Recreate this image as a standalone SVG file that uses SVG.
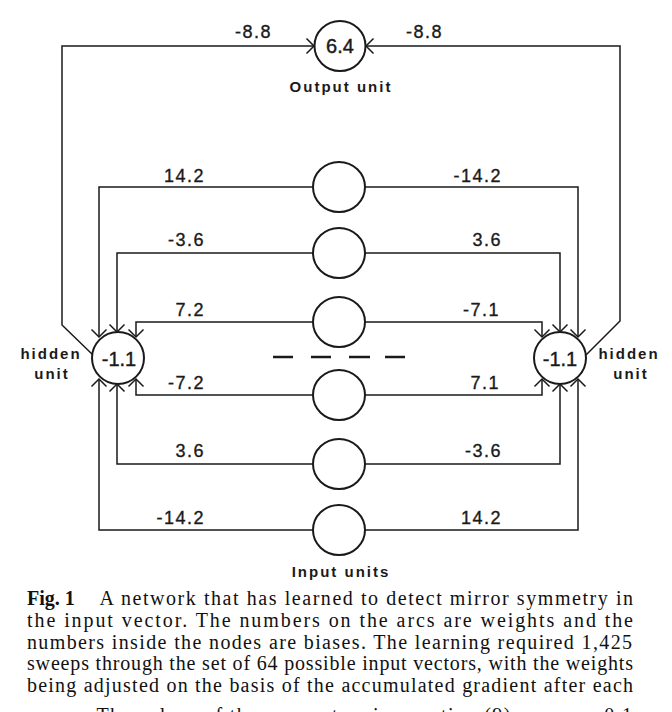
<svg xmlns="http://www.w3.org/2000/svg" width="672" height="712" viewBox="0 0 672 712">
<style>
.ln{fill:none;stroke:#1a1a1a;stroke-width:1.5}
.nd{fill:#fff;stroke:#1a1a1a;stroke-width:2}
.w{font-family:"Liberation Sans",Arial,sans-serif;font-size:18px;fill:#1a1a1a;stroke:#1a1a1a;stroke-width:0.35;letter-spacing:1.5px}
.b{font-family:"Liberation Sans",Arial,sans-serif;font-size:20px;fill:#1a1a1a;stroke:#1a1a1a;stroke-width:0.4;text-anchor:middle}
.lb{font-family:"Liberation Sans",Arial,sans-serif;font-size:15px;font-weight:bold;fill:#1a1a1a;letter-spacing:2px;text-anchor:middle}
.cap{font-family:"Liberation Serif","Times New Roman",serif;font-size:20px;fill:#111}
</style>
<defs>
<marker id="arr" viewBox="0 0 20 20" refX="10" refY="10" markerWidth="20" markerHeight="20" markerUnits="userSpaceOnUse" orient="auto">
<path d="M2.5,2.5 L10,10 L2.5,17.5" fill="none" stroke="#1a1a1a" stroke-width="1.5"/>
</marker>
</defs>
<rect width="672" height="712" fill="#fff"/>

<g id="connectors">
<path class="ln" d="M93,355 L62,325 V46 H314" marker-end="url(#arr)"/>
<path class="ln" d="M586,355 L620,321 V46 H366" marker-end="url(#arr)"/>
<path class="ln" d="M313,187 H99 V337" marker-end="url(#arr)"/>
<path class="ln" d="M313,253 H117 V332" marker-end="url(#arr)"/>
<path class="ln" d="M313,322 H136 V337" marker-end="url(#arr)"/>
<path class="ln" d="M313,395 H136 V379" marker-end="url(#arr)"/>
<path class="ln" d="M313,464 H117 V384" marker-end="url(#arr)"/>
<path class="ln" d="M313,530 H99 V379" marker-end="url(#arr)"/>
<path class="ln" d="M365,187 H578 V337" marker-end="url(#arr)"/>
<path class="ln" d="M365,253 H560 V332" marker-end="url(#arr)"/>
<path class="ln" d="M365,322 H542 V337" marker-end="url(#arr)"/>
<path class="ln" d="M365,395 H542 V379" marker-end="url(#arr)"/>
<path class="ln" d="M365,464 H560 V384" marker-end="url(#arr)"/>
<path class="ln" d="M365,530 H578 V379" marker-end="url(#arr)"/>
</g>

<g id="weights">
<text class="w" x="272" y="38" text-anchor="end">-8.8</text>
<text class="w" x="406" y="38">-8.8</text>
<text class="w" x="205" y="182" text-anchor="end">14.2</text>
<text class="w" x="502" y="182" text-anchor="end">-14.2</text>
<text class="w" x="205" y="246" text-anchor="end">-3.6</text>
<text class="w" x="502" y="246" text-anchor="end">3.6</text>
<text class="w" x="205" y="316" text-anchor="end">7.2</text>
<text class="w" x="500" y="316" text-anchor="end">-7.1</text>
<text class="w" x="205" y="389" text-anchor="end">-7.2</text>
<text class="w" x="500" y="389" text-anchor="end">7.1</text>
<text class="w" x="205" y="457" text-anchor="end">3.6</text>
<text class="w" x="502" y="457" text-anchor="end">-3.6</text>
<text class="w" x="205" y="524" text-anchor="end">-14.2</text>
<text class="w" x="502" y="524" text-anchor="end">14.2</text>
</g>

<g id="output-unit">
<ellipse class="nd" cx="340" cy="46" rx="25.5" ry="25"/>
<text class="b" x="340" y="53">6.4</text>
<text class="lb" x="341" y="92">Output unit</text>
</g>

<g id="hidden-left">
<circle class="nd" cx="118" cy="358" r="26"/>
<text class="b" x="119" y="366" font-size="21">-1.1</text>
<text class="lb" x="51" y="359">hidden</text>
<text class="lb" x="52" y="379">unit</text>
</g>

<g id="hidden-right">
<circle class="nd" cx="560" cy="358" r="26"/>
<text class="b" x="560" y="366" font-size="21">-1.1</text>
<text class="lb" x="629" y="359">hidden</text>
<text class="lb" x="631" y="379">unit</text>
</g>

<g id="input-1"><ellipse class="nd" cx="339" cy="187" rx="26" ry="25"/></g>
<g id="input-2"><ellipse class="nd" cx="339" cy="253" rx="26" ry="25"/></g>
<g id="input-3"><ellipse class="nd" cx="339" cy="322" rx="26" ry="25"/></g>
<g id="input-4"><ellipse class="nd" cx="339" cy="395" rx="26" ry="25"/></g>
<g id="input-5"><ellipse class="nd" cx="339" cy="464" rx="26" ry="25"/></g>
<g id="input-6"><ellipse class="nd" cx="339" cy="530" rx="26" ry="25"/></g>

<g id="ellipsis" stroke="#1a1a1a" stroke-width="2.5">
<line x1="273" y1="357" x2="293" y2="357"/>
<line x1="311" y1="357" x2="331" y2="357"/>
<line x1="349" y1="357" x2="370" y2="357"/>
<line x1="385" y1="357" x2="405" y2="357"/>
</g>

<text class="lb" x="341" y="577">Input units</text>

<g id="caption">
<text class="cap" x="27" y="605" font-weight="bold">Fig. 1</text>
<text class="cap" x="99.5" y="605" textLength="533.5" lengthAdjust="spacing">A network that has learned to detect mirror symmetry in</text>
<text class="cap" x="27" y="627" textLength="606" lengthAdjust="spacing">the input vector. The numbers on the arcs are weights and the</text>
<text class="cap" x="27" y="648.5" textLength="605" lengthAdjust="spacing">numbers inside the nodes are biases. The learning required 1,425</text>
<text class="cap" x="27" y="670" textLength="606" lengthAdjust="spacing">sweeps through the set of 64 possible input vectors, with the weights</text>
<text class="cap" x="27" y="692" textLength="606" lengthAdjust="spacing">being adjusted on the basis of the accumulated gradient after each</text>
<text class="cap" x="27" y="722" textLength="605" lengthAdjust="spacing">sweep. The values of the parameters in equation (9) were ε = 0.1</text>
</g>
</svg>
